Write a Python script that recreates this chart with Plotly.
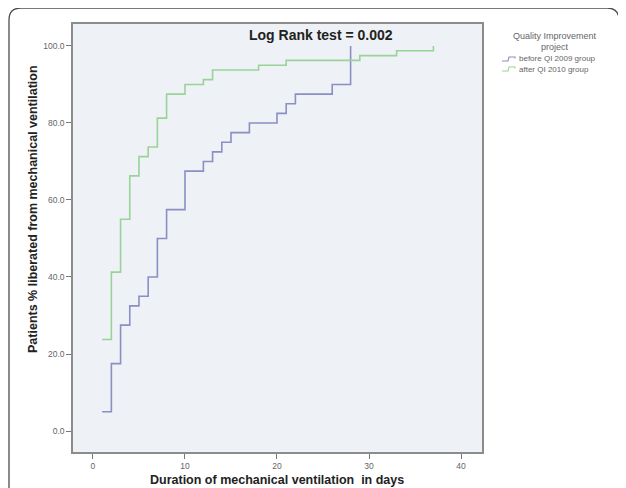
import plotly.graph_objects as go

# ---- data ----
before_days = [1, 2, 3, 4, 5, 6, 7, 8, 10, 12, 13, 14, 15, 17, 20, 21, 22, 26, 28]
before_pct = [5.0, 17.5, 27.5, 32.5, 35.0, 40.0, 50.0, 57.5, 67.5, 70.0, 72.5, 75.0,
              77.5, 80.0, 82.5, 85.0, 87.5, 90.0, 100.0]
after_days = [1, 2, 3, 4, 5, 6, 7, 8, 10, 12, 13, 18, 21, 29, 33, 37]
after_pct = [23.75, 41.25, 55.0, 66.25, 71.25, 73.75, 81.25, 87.5, 90.0, 91.25, 93.75,
             95.0, 96.25, 97.5, 98.75, 100.0]
x_ticks = [0, 10, 20, 30, 40]
x_tick_labels = ["0", "10", "20", "30", "40"]
y_ticks = [0, 20, 40, 60, 80, 100]
y_tick_labels = ["0.0", "20.0", "40.0", "60.0", "80.0", "100.0"]
series_names = ["before QI 2009 group", "after QI 2010 group"]

BLUE = "#8b8fc4"
GREEN = "#9ad39a"
FONT = "Liberation Sans, Arial, sans-serif"

# page body has an 8px margin, so the figure is laid out 8px up/left of the target
OFF = 8
W, H = 626, 488
PL, PT, PR, PB = 73, 24, 482, 452          # plot area in target-page pixels
ML, MT = PL - OFF, PT - OFF
PW, PH = PR - PL, PB - PT
MR, MB = W - ML - PW, H - MT - PH


def px(xp):
    return (xp - PL) / PW


def py(yp):
    return (PB - yp) / PH


fig = go.Figure()
fig.add_trace(go.Scatter(x=before_days, y=before_pct, mode="lines", line_shape="hv",
                         line=dict(color=BLUE, width=1.6), name=series_names[0],
                         showlegend=False))
fig.add_trace(go.Scatter(x=after_days, y=after_pct, mode="lines", line_shape="hv",
                         line=dict(color=GREEN, width=1.6), name=series_names[1],
                         showlegend=False))

axis_common = dict(showgrid=False, zeroline=False, ticks="outside", ticklen=5,
                   tickcolor="#777", tickwidth=1, showline=True, linecolor="#8c8c8c",
                   linewidth=1.5, mirror=True,
                   tickfont=dict(family=FONT, size=8.5, color="#666"))
fig.update_xaxes(range=[-2.17, 42.28], tickvals=x_ticks, ticktext=x_tick_labels, **axis_common)
fig.update_yaxes(range=[-5.45, 105.7], tickvals=y_ticks, ticktext=y_tick_labels, **axis_common)


def ann(text, x, y, size, color, xanchor="center", angle=0):
    return dict(text=text, x=px(x), y=py(y), xref="paper", yref="paper", showarrow=False,
                xanchor=xanchor, yanchor="middle", textangle=angle,
                font=dict(family=FONT, size=size, color=color))


annotations = [
    ann("<b>Log Rank test = 0.002</b>", 321, 35, 14, "#222"),
    ann("<b>Duration of mechanical ventilation  in days</b>", 277, 480, 12.5, "#222"),
    ann("<b>Patients % liberated from mechanical ventilation</b>", 33, 209, 12.5, "#222",
        angle=-90),
    ann("Quality Improvement", 555, 35.5, 9, "#666"),
    ann("project", 555, 47, 9, "#666"),
    ann(series_names[0], 517, 59, 8, "#666", xanchor="left"),
    ann(series_names[1], 517, 69, 8, "#666", xanchor="left"),
]


def glyph(yc, color):
    pts = [(502, yc + 2), (508, yc + 2), (509, yc - 2), (515, yc - 2), (515, yc - 0.5)]
    d = "M " + " L ".join(f"{px(a):.5f},{py(b):.5f}" for a, b in pts)
    return dict(type="path", path=d, xref="paper", yref="paper",
                line=dict(color=color, width=1.1))


def rounded_frame(x0, y0, x1, y1, r):
    d = (f"M {px(x0)},{py(y1)} L {px(x0)},{py(y0 + r)} "
         f"Q {px(x0)},{py(y0)} {px(x0 + r)},{py(y0)} L {px(x1 - r)},{py(y0)} "
         f"Q {px(x1)},{py(y0)} {px(x1)},{py(y0 + r)} L {px(x1)},{py(y1)}")
    return dict(type="path", path=d, xref="paper", yref="paper",
                line=dict(color="#4d4d4d", width=1.3), layer="below")


shapes = [glyph(59, BLUE), glyph(69, GREEN), rounded_frame(9, 8, 619, 510, 12)]

fig.update_layout(width=W, height=H, margin=dict(l=ML, r=MR, t=MT, b=MB),
                  paper_bgcolor="white", plot_bgcolor="#eef1f5",
                  annotations=annotations, shapes=shapes, showlegend=False)

fig.write_html("out.html")
